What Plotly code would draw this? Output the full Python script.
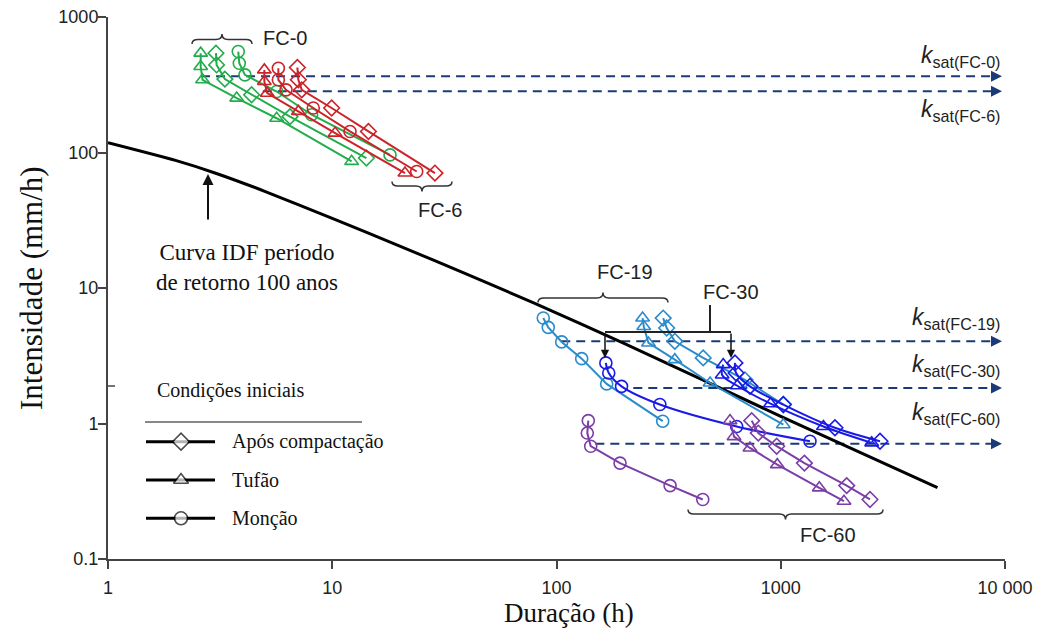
import plotly.graph_objects as go

# ---------------- data ----------------
idf_duration = [1, 2, 3, 5, 10, 20, 40, 80, 200, 1000, 5000]
idf_intensity = [118, 87.4, 70.6, 51.7, 32.7, 20.4, 12.6, 7.7, 3.9, 1.13, 0.337]

fc0_apos_x = [3.03, 3.05, 3.32, 4.37, 6.48, 14.2]
fc0_apos_y = [541, 443, 348, 267, 184, 91]
fc0_tufao_x = [2.59, 2.59, 2.64, 3.75, 5.65, 12.2]
fc0_tufao_y = [541, 431, 344, 252, 179, 86]
fc0_moncao_x = [3.81, 3.85, 4.08, 5.65, 8.09, 18.1]
fc0_moncao_y = [556, 456, 374, 282, 190, 96]

fc6_apos_x = [6.99, 7.06, 7.31, 9.94, 14.5, 28.7]
fc6_apos_y = [424, 344, 290, 213, 143, 70.5]
fc6_tufao_x = [4.98, 4.98, 5.13, 7.06, 10.3, 21.1]
fc6_tufao_y = [407, 334, 274, 201, 139, 70.5]
fc6_moncao_x = [5.75, 5.75, 6.22, 8.23, 12.0, 23.8]
fc6_moncao_y = [419, 344, 290, 213, 143, 72.4]

fc19_apos_x = [299, 310, 337, 451, 692, 1027]
fc19_apos_y = [6.0, 5.07, 4.04, 3.05, 2.1, 1.38]
fc19_tufao_x = [242, 245, 257, 337, 484, 1027]
fc19_tufao_y = [6.0, 5.2, 3.93, 2.96, 1.99, 0.98]
fc19_moncao_x = [87.3, 91.9, 105.5, 129.5, 167.4, 297.6]
fc19_moncao_y = [6.01, 5.12, 4.0, 3.01, 1.96, 1.04]

fc30_apos_x = [625, 632, 729, 1027, 1745, 2771]
fc30_apos_y = [2.8, 2.36, 1.88, 1.38, 0.93, 0.74]
fc30_tufao_x = [554, 548, 640, 900, 1550, 2544]
fc30_tufao_y = [2.72, 2.28, 1.9, 1.4, 0.95, 0.72]
fc30_moncao_x = [166, 171, 195, 289, 636, 1350]
fc30_moncao_y = [2.8, 2.36, 1.88, 1.38, 0.95, 0.74]

fc60_apos_x = [742, 794, 959, 1275, 1968, 2500]
fc60_apos_y = [1.05, 0.85, 0.68, 0.51, 0.348, 0.275]
fc60_tufao_x = [594, 619, 729, 965, 1486, 1914]
fc60_tufao_y = [1.05, 0.80, 0.66, 0.497, 0.335, 0.267]
fc60_moncao_x = [138.6, 137.2, 142.1, 192, 321, 449]
fc60_moncao_y = [1.05, 0.85, 0.68, 0.51, 0.348, 0.275]

ksat_names = ["FC-0", "FC-6", "FC-19", "FC-30", "FC-60"]
ksat_values = [365, 283, 4.04, 1.83, 0.71]
ksat_start = [2.6, 4.9, 105, 220, 149]
ksat_end = 9300
ksat_arrow = 9700

x_tickvals = [1, 10, 100, 1000, 10000]
x_ticktext = ["1", "10", "100", "1000", "10 000"]
y_tickvals = [0.1, 1, 10, 100, 1000]
y_ticktext = ["0.1", "1", "10", "100", "1000"]

x_title = "Duração (h)"
y_title = "Intensidade (mm/h)"
legend_labels = ["Após compactação", "Tufão", "Monção"]

# ---------------- styles ----------------
COL = {"FC-0": "#22ad4c", "FC-6": "#cc2229", "FC-19": "#2a8bcc",
       "FC-30": "#1a1ae6", "FC-60": "#7b3ea6"}
SYM = {"apos": "diamond-open", "tufao": "triangle-up-open", "moncao": "circle-open"}
NAVY = "#1c3a78"
SANS = "Liberation Sans, Arial, sans-serif"
SERIF = "Liberation Serif, Times New Roman, serif"

W, H = 1044, 629
L, R, T, B = 108, 1005, 17, 559


def px(x):
    return (x - L) / (R - L)


def py(y):
    return (B - y) / (B - T)


fig = go.Figure()

# ksat dashed lines
for name, v, s in zip(ksat_names, ksat_values, ksat_start):
    fig.add_trace(go.Scatter(x=[s, ksat_end], y=[v, v], mode="lines",
                             line=dict(color=NAVY, width=2, dash="9px,6px"),
                             hoverinfo="skip"))
    fig.add_trace(go.Scatter(x=[ksat_arrow], y=[v], mode="markers",
                             marker=dict(symbol="arrow-right", size=11, color=NAVY,
                                         line=dict(width=0)),
                             hoverinfo="skip", cliponaxis=False))

# IDF curve
fig.add_trace(go.Scatter(x=idf_duration, y=idf_intensity, mode="lines",
                         line=dict(color="black", width=3, shape="spline", smoothing=0.5)))

series = [
    ("FC-0", "apos", fc0_apos_x, fc0_apos_y, "linear"),
    ("FC-0", "tufao", fc0_tufao_x, fc0_tufao_y, "linear"),
    ("FC-0", "moncao", fc0_moncao_x, fc0_moncao_y, "linear"),
    ("FC-6", "apos", fc6_apos_x, fc6_apos_y, "linear"),
    ("FC-6", "tufao", fc6_tufao_x, fc6_tufao_y, "linear"),
    ("FC-6", "moncao", fc6_moncao_x, fc6_moncao_y, "linear"),
    ("FC-19", "apos", fc19_apos_x, fc19_apos_y, "linear"),
    ("FC-19", "tufao", fc19_tufao_x, fc19_tufao_y, "linear"),
    ("FC-19", "moncao", fc19_moncao_x, fc19_moncao_y, "linear"),
    ("FC-30", "apos", fc30_apos_x, fc30_apos_y, "spline"),
    ("FC-30", "tufao", fc30_tufao_x, fc30_tufao_y, "spline"),
    ("FC-30", "moncao", fc30_moncao_x, fc30_moncao_y, "spline"),
    ("FC-60", "apos", fc60_apos_x, fc60_apos_y, "linear"),
    ("FC-60", "tufao", fc60_tufao_x, fc60_tufao_y, "linear"),
    ("FC-60", "moncao", fc60_moncao_x, fc60_moncao_y, "linear"),
]
for fc, cond, xs, ys, shp in series:
    fig.add_trace(go.Scatter(
        x=xs, y=ys, mode="lines+markers",
        line=dict(color=COL[fc], width=2, shape=shp),
        marker=dict(symbol=SYM[cond], size=12, color=COL[fc], line=dict(width=1.6, color=COL[fc])),
        name=f"{fc} {cond}"))

# legend samples (overlay axes in paper-like units)
leg_y = [441.7, 480, 518.3]
leg_sym = ["diamond", "triangle-up", "circle"]
for yy, sym in zip(leg_y, leg_sym):
    fig.add_trace(go.Scatter(
        x=[px(146), px(181), px(215)], y=[py(yy)] * 3, mode="lines+markers",
        line=dict(color="black", width=3),
        marker=dict(symbol=sym, size=[0, 13, 0], color="white", line=dict(color="black", width=1.6)),
        xaxis="x2", yaxis="y2", hoverinfo="skip"))

shapes = []


def brace(x0, x1, y, up=True, tip=4.5, peak=5.5, r=6):
    xm = (x0 + x1) / 2
    s = 1 if up else -1  # up: peak points up (smaller pixel y)
    yt = y + s * tip
    yp = y - s * peak
    pts = (f"M {px(x0)},{py(yt)} Q {px(x0)},{py(y)} {px(x0 + r)},{py(y)} "
           f"L {px(xm - r)},{py(y)} Q {px(xm)},{py(y)} {px(xm)},{py(yp)} "
           f"Q {px(xm)},{py(y)} {px(xm + r)},{py(y)} "
           f"L {px(x1 - r)},{py(y)} Q {px(x1)},{py(y)} {px(x1)},{py(yt)}")
    return dict(type="path", path=pts, xref="paper", yref="paper",
                line=dict(color="#333", width=1.5))


shapes.append(brace(192, 252, 39.5, up=True))
shapes.append(brace(392, 452, 186, up=False))
shapes.append(brace(538, 668, 298, up=True))
shapes.append(brace(688, 883, 514, up=False))

# FC-30 bracket
for (x0, y0, x1, y1) in [(710, 305, 710, 332), (605, 332, 731, 332)]:
    shapes.append(dict(type="line", xref="paper", yref="paper",
                       x0=px(x0), y0=py(y0), x1=px(x1), y1=py(y1),
                       line=dict(color="#222", width=2)))
# legend rule
shapes.append(dict(type="line", xref="paper", yref="paper",
                   x0=px(145), y0=py(422), x1=px(362), y1=py(422),
                   line=dict(color="#888", width=2)))
# small inner tick on the y axis
shapes.append(dict(type="line", xref="paper", yref="paper",
                   x0=px(108), y0=py(386), x1=px(115), y1=py(386),
                   line=dict(color="#444", width=1.5)))

ann = []


def text(x, y, s, size=18, family=SANS, xanchor="center", color="#222", angle=0):
    ann.append(dict(x=px(x), y=py(y), xref="paper", yref="paper", text=s, showarrow=False,
                    xanchor=xanchor, yanchor="middle", textangle=angle,
                    font=dict(family=family, size=size, color=color)))


text(285, 38, "FC-0", size=20)
text(440, 210, "FC-6", size=20)
text(625, 272, "FC-19", size=20)
text(731, 292, "FC-30", size=20)
text(828, 535, "FC-60", size=20)
text(247, 267, "Curva IDF período<br>de retorno 100 anos", size=23, family=SERIF, color="#111")
text(230, 390, "Condições iniciais", size=20, family=SERIF, color="#111")
for yy, lab in zip(leg_y, legend_labels):
    text(230, yy, lab, size=20, family=SERIF, xanchor="left", color="#111")

ksat_label_y = [56, 111, 318, 365, 413]
for name, yy in zip(ksat_names, ksat_label_y):
    text(1002, yy, f"<i>k</i><sub>sat({name})</sub>", size=23, xanchor="right")

# axis titles
text(569, 613, x_title, size=27, family=SERIF, color="#111")
text(31, 288, y_title, size=31, family=SERIF, color="#111", angle=-90)

# arrows
for (xt, yt, dy) in [(208, 174, 47), (605, 358, -26), (731, 358, -26)]:
    ann.append(dict(x=px(xt), y=py(yt), xref="paper", yref="paper", ax=0, ay=dy,
                    showarrow=True, arrowhead=2, arrowsize=1.1, arrowwidth=2 if dy > 0 else 1.5,
                    arrowcolor="#111", text=""))

fig.update_layout(
    width=W, height=H, margin=dict(l=L, r=W - R, t=T, b=H - B, autoexpand=False),
    plot_bgcolor="white", paper_bgcolor="white", showlegend=False,
    shapes=shapes, annotations=ann,
    xaxis=dict(type="log", range=[0, 4], tickvals=x_tickvals, ticktext=x_ticktext,
               ticks="outside", ticklen=8, tickwidth=1.5, tickcolor="#444", ticklabelstandoff=3,
               showline=True, linecolor="#444", linewidth=2, showgrid=False, zeroline=False,
               tickfont=dict(family=SANS, size=18, color="#222")),
    yaxis=dict(type="log", range=[-1, 3], tickvals=y_tickvals, ticktext=y_ticktext,
               ticks="outside", ticklen=8, tickwidth=1.5, tickcolor="#444", ticklabelstandoff=-4,
               showline=True, linecolor="#444", linewidth=2, showgrid=False, zeroline=False,
               tickfont=dict(family=SANS, size=18, color="#222")),
    xaxis2=dict(overlaying="x", range=[0, 1], visible=False, fixedrange=True),
    yaxis2=dict(overlaying="y", range=[0, 1], visible=False, fixedrange=True),
)

fig.write_html("out.html")
